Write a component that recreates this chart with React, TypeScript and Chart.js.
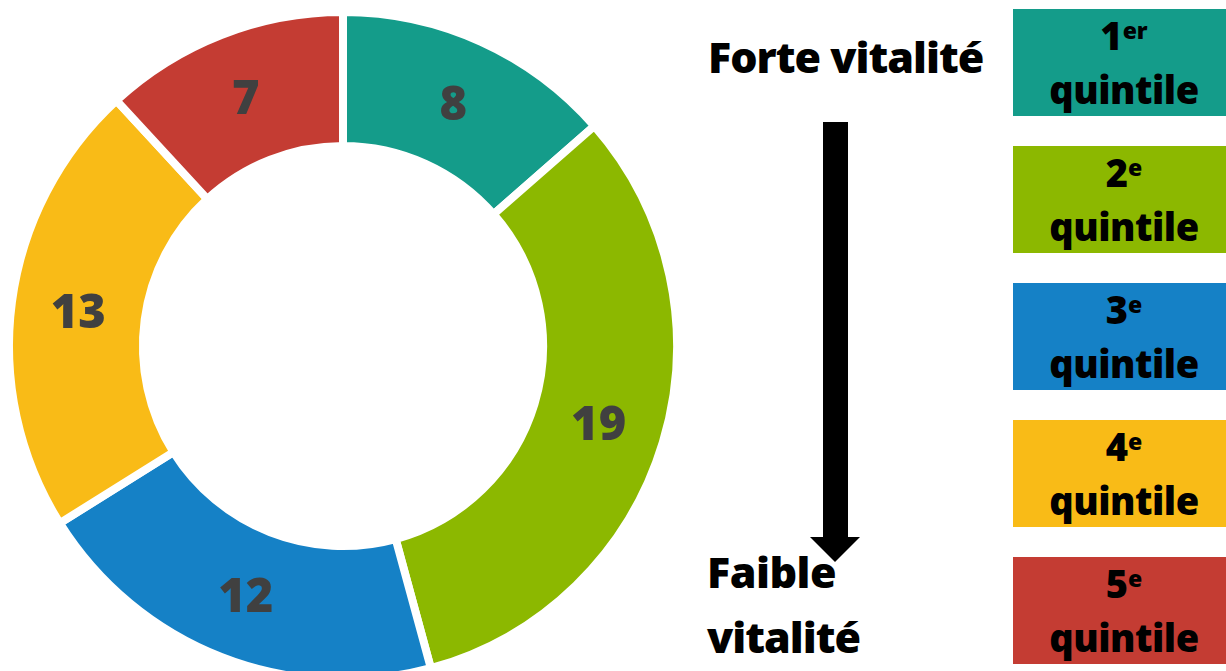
import React, { useEffect, useRef } from "react";
import { Chart, registerables } from "chart.js";

Chart.register(...registerables);

// ---- data ----
const categories = ["1er quintile", "2e quintile", "3e quintile", "4e quintile", "5e quintile"];
const values = [8, 19, 12, 13, 7];
const colors = ["#149c8a", "#8cb800", "#1581c6", "#f9bb17", "#c43c33"];
const ordinals = ["1", "2", "3", "4", "5"];
const ordinalSuffixes = ["er", "e", "e", "e", "e"];
const legendWord = "quintile";
const topLabel = "Forte vitalité";
const bottomLabel = ["Faible", "vitalité"];

const FONT = "'Open Sans', 'DejaVu Sans', sans-serif";
const ASC = 0.888; // baseline offset ratio for line-height = font-size (Open Sans)

const labelPlugin = {
  id: "sliceLabels",
  afterDatasetsDraw(chart: any) {
    const { ctx } = chart;
    const meta = chart.getDatasetMeta(0);
    ctx.save();
    ctx.font = `800 47px ${FONT}`;
    ctx.fillStyle = "#404040";
    ctx.textAlign = "center";
    ctx.textBaseline = "alphabetic";
    meta.data.forEach((arc: any, i: number) => {
      const p = arc.getCenterPoint();
      ctx.fillText(String(values[i]), p.x, p.y + 17);
    });
    ctx.restore();
  },
};

function Txt(props: {
  x: number;
  baseline: number;
  size: number;
  width?: number;
  align?: "left" | "center";
  spacing?: number;
  children: React.ReactNode;
}) {
  const { x, baseline, size, width, align, spacing, children } = props;
  return (
    <div
      style={{
        position: "absolute",
        left: x,
        top: baseline - ASC * size,
        width: width,
        textAlign: align || "left",
        fontFamily: FONT,
        fontWeight: 800,
        fontSize: size,
        lineHeight: `${size}px`,
        letterSpacing: spacing ? `${spacing}px` : undefined,
        whiteSpace: "nowrap",
        color: "#000",
      }}
    >
      {children}
    </div>
  );
}

export default function App() {
  const canvasRef = useRef<HTMLCanvasElement | null>(null);

  useEffect(() => {
    if (!canvasRef.current) return;
    const chart = new Chart(canvasRef.current, {
      type: "doughnut",
      data: {
        labels: categories,
        datasets: [
          {
            data: values,
            backgroundColor: colors,
            borderColor: "#ffffff",
            borderWidth: 8,
            hoverOffset: 0,
          } as any,
        ],
      },
      options: {
        animation: false,
        responsive: true,
        maintainAspectRatio: false,
        radius: 334,
        cutout: "59.9%",
        layout: { padding: 0 },
        plugins: {
          legend: { display: false },
          tooltip: { enabled: false },
        },
      } as any,
      plugins: [labelPlugin],
    });
    return () => chart.destroy();
  }, []);

  const boxTop0 = 8.5;
  const boxPitch = 137;
  const boxH = 107;
  const boxLeft = 1013;
  const boxW = 222;

  return (
    <div
      style={{
        position: "absolute",
        left: 0,
        top: 0,
        width: 1226,
        height: 671,
        overflow: "hidden",
        background: "#fff",
      }}
    >
      <div style={{ position: "absolute", left: 0, top: 0, width: 686, height: 692 }}>
        <canvas ref={canvasRef} />
      </div>

      <Txt x={708} baseline={73.5} size={43} spacing={-1}>
        {topLabel}
      </Txt>

      <div
        style={{
          position: "absolute",
          left: 823,
          top: 122,
          width: 25,
          height: 416,
          background: "#000",
        }}
      />
      <div
        style={{
          position: "absolute",
          left: 810,
          top: 537,
          width: 0,
          height: 0,
          borderLeft: "25px solid transparent",
          borderRight: "25px solid transparent",
          borderTop: "25px solid #000",
        }}
      />

      <Txt x={707} baseline={588.5} size={43} spacing={-0.5}>
        {bottomLabel[0]}
      </Txt>
      <Txt x={707} baseline={653} size={43} spacing={-1}>
        {bottomLabel[1]}
      </Txt>

      {categories.map((c, i) => {
        const top = boxTop0 + i * boxPitch;
        return (
          <div
            key={c}
            style={{
              position: "absolute",
              left: boxLeft,
              top: top,
              width: boxW,
              height: boxH,
              background: colors[i],
            }}
          >
            <Txt x={0} baseline={41} size={38} width={boxW} align="center">
              {ordinals[i]}
              <span style={{ fontSize: 23, verticalAlign: "11px", lineHeight: "0" }}>
                {ordinalSuffixes[i]}
              </span>
            </Txt>
            <Txt x={0} baseline={95} size={38} width={boxW} align="center" spacing={-0.5}>
              {legendWord}
            </Txt>
          </div>
        );
      })}
    </div>
  );
}
